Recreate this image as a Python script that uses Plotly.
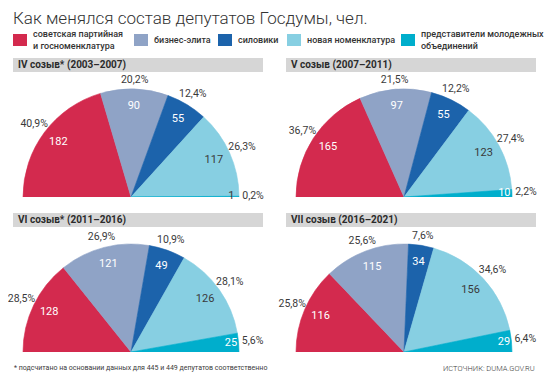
import math
import plotly.graph_objects as go

# ---------------- data ----------------
categories = [
    "советская партийная и госноменклатура",
    "бизнес-элита",
    "силовики",
    "новая номенклатура",
    "представители молодежных объединений",
]
legend_labels = [
    "советская партийная<br>и госноменклатура",
    "бизнес-элита",
    "силовики",
    "новая номенклатура",
    "представители молодежных<br>объединений",
]
colors = ["#d32a4e", "#8fa3c6", "#1c63ab", "#87cfe2", "#00aecc"]

convocations = [
    "IV созыв* (2003–2007)",
    "V созыв (2007–2011)",
    "VI созыв* (2011–2016)",
    "VII созыв (2016–2021)",
]
counts_iv = [182, 90, 55, 117, 1]
counts_v = [165, 97, 55, 123, 10]
counts_vi = [128, 121, 49, 126, 25]
counts_vii = [116, 115, 34, 156, 29]

pct_iv = ["40,9%", "20,2%", "12,4%", "26,3%", "0,2%"]
pct_v = ["36,7%", "21,5%", "12,2%", "27,4%", "2,2%"]
pct_vi = ["28,5%", "26,9%", "10,9%", "28,1%", "5,6%"]
pct_vii = ["25,8%", "25,6%", "7,6%", "34,6%", "6,4%"]

title_text = "Как менялся состав депутатов Госдумы, чел."
footnote = "* подсчитано на основании данных для 445 и 449 депутатов соответственно"
source = "ИСТОЧНИК: DUMA.GOV.RU"

all_counts = [counts_iv, counts_v, counts_vi, counts_vii]
all_pcts = [pct_iv, pct_v, pct_vi, pct_vii]

# ---------------- layout helpers ----------------
# the page body has an 8px default margin, so the figure is 16px smaller
OFF = 8
PAGE_W, PAGE_H = 552, 380
W, H = PAGE_W - 2 * OFF, PAGE_H - 2 * OFF
FONT = "Roboto"
DARK = "#3a3a3a"


def fx(x):  # page px -> paper fraction
    return (x - OFF) / W


def fy(y):
    return 1 - (y - OFF) / H


# pie centres (page px) and radius
R = 108
RMAX = 1.135  # radial range, leaves room for outer labels
centers = [(131, 197), (404, 197), (131, 352), (404, 352)]
headers = [(13, 263, 58, 72), (286, 536, 58, 72), (13, 263, 213, 227), (286, 536, 213, 227)]

fig = go.Figure()
layout_polars = {}

for i, (counts, pcts) in enumerate(zip(all_counts, all_pcts)):
    pid = "polar" if i == 0 else f"polar{i+1}"
    total = sum(counts)
    spans = [c / total * 180 for c in counts]
    mids = []
    acc = 0
    for s in spans:
        mids.append(acc + s / 2)
        acc += s

    fig.add_trace(go.Barpolar(
        r=[1] * len(counts), theta=mids, width=spans,
        marker=dict(color=colors, line=dict(color=colors, width=0.6)),
        subplot=pid, showlegend=False, hoverinfo="skip",
    ))

    # inner count labels
    r_in, col_in = [], []
    for k, s in enumerate(spans):
        r_in.append(0.93 if k == 4 else 0.84)
        col_in.append(DARK if (k == 3 or s < 2) else "white")
    fig.add_trace(go.Scatterpolar(
        r=r_in, theta=mids, mode="text", text=[str(c) for c in counts],
        textfont=dict(family=FONT, size=11, color=col_in),
        subplot=pid, showlegend=False, hoverinfo="skip", cliponaxis=False,
    ))

    # outer percentage labels
    r_out = [1.08 + 0.05 * abs(math.cos(math.radians(m))) for m in mids]
    fig.add_trace(go.Scatterpolar(
        r=r_out, theta=mids, mode="text", text=pcts,
        textfont=dict(family=FONT, size=10.5, color=DARK),
        subplot=pid, showlegend=False, hoverinfo="skip", cliponaxis=False,
    ))

    cx, cy = centers[i]
    Rd = R * RMAX
    layout_polars[pid] = dict(
        domain=dict(x=[max(0, fx(cx - Rd)), min(1, fx(cx + Rd))],
                    y=[fy(cy), fy(cy - Rd)]),
        sector=[0, 180], hole=0, bgcolor="rgba(0,0,0,0)",
        angularaxis=dict(visible=False, rotation=180, direction="clockwise",
                         thetaunit="degrees"),
        radialaxis=dict(visible=False, range=[0, RMAX]),
    )

shapes = []
annotations = []

# panel headers
for (x0, x1, y0, y1), label in zip(headers, convocations):
    shapes.append(dict(type="rect", xref="paper", yref="paper",
                       x0=fx(x0), x1=fx(x1), y0=fy(y1), y1=fy(y0),
                       fillcolor="#d6d6d6", line=dict(width=0), layer="below"))
    annotations.append(dict(x=fx(x0 + 3), y=fy((y0 + y1) / 2), xref="paper", yref="paper",
                            xanchor="left", yanchor="middle", showarrow=False,
                            text="<b>" + label + "</b>",
                            font=dict(family=FONT, size=10, color="#2b2b2b")))

# legend
leg_x = [13, 134, 218, 287, 401]
for x0, lab, col in zip(leg_x, legend_labels, colors):
    shapes.append(dict(type="rect", xref="paper", yref="paper",
                       x0=fx(x0), x1=fx(x0 + 14), y0=fy(46), y1=fy(34),
                       fillcolor=col, line=dict(width=0)))
    annotations.append(dict(x=fx(x0 + 18), y=fy(39.5), xref="paper", yref="paper",
                            xanchor="left", yanchor="middle", showarrow=False,
                            align="left", text=lab,
                            font=dict(family=FONT, size=9, color="#333333", weight=500)))

# title
annotations.append(dict(x=fx(11), y=fy(18), xref="paper", yref="paper",
                        xanchor="left", yanchor="middle", showarrow=False,
                        text=title_text,
                        font=dict(family=FONT, size=17, color="#333333", weight=300)))
# footnote & source
annotations.append(dict(x=fx(12), y=fy(368), xref="paper", yref="paper",
                        xanchor="left", yanchor="middle", showarrow=False,
                        text=footnote, font=dict(family=FONT, size=7, color=DARK)))
annotations.append(dict(x=fx(537), y=fy(368), xref="paper", yref="paper",
                        xanchor="right", yanchor="middle", showarrow=False,
                        text=source, font=dict(family=FONT, size=7.5, color=DARK, weight=300)))

fig.update_layout(
    width=W, height=H,
    margin=dict(l=0, r=0, t=0, b=0),
    paper_bgcolor="white", plot_bgcolor="white",
    font=dict(family=FONT, color=DARK),
    shapes=shapes, annotations=annotations,
    **layout_polars,
)

fig.write_html("out.html")
